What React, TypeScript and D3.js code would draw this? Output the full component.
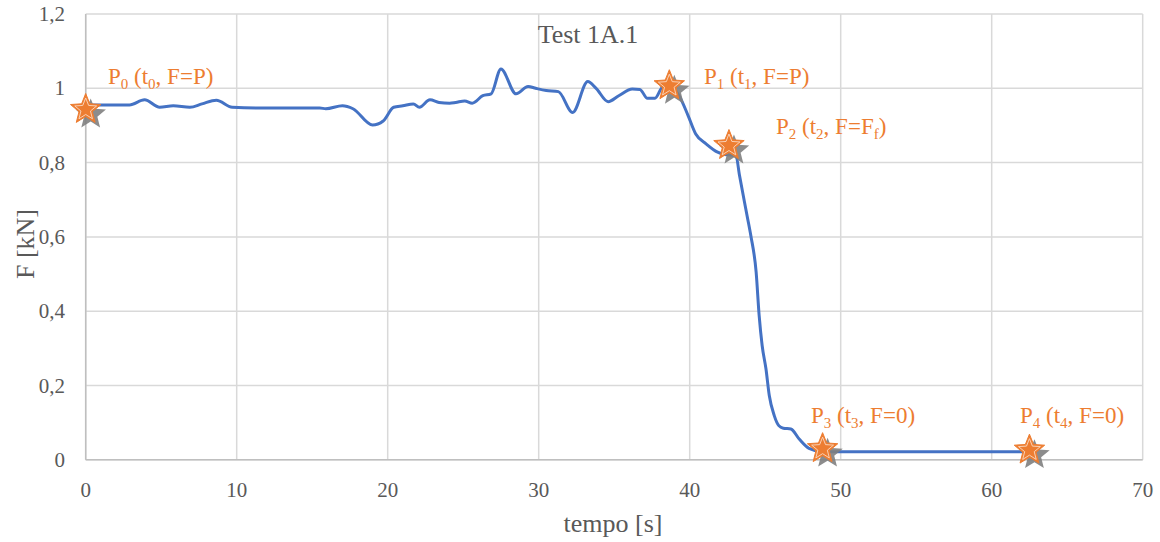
import React from "react";
import * as d3 from "d3";

const timeS = [0, 0.5, 2.9, 3.9, 4.9, 5.8, 6.9, 7.7, 8.65, 9.7, 12, 15.5, 15.9, 17, 17.7, 19.0, 19.7, 20.4, 21, 21.7, 22.1, 22.8, 23.4, 24.1, 24.5, 25.1, 25.6, 26.3, 26.85, 27.5, 28.5, 29.3, 29.8, 30.5, 31.3, 32.25, 33.25, 33.8, 34.6, 35.3, 36.2, 36.7, 37.2, 37.7, 38.2, 38.65, 39.3, 39.9, 40.4, 41.1, 41.85, 42.3, 43.06, 43.3, 43.8, 44.05, 44.4, 44.6, 44.8, 45.05, 45.27, 45.6, 45.9, 46.2, 46.7, 47.25, 47.9, 48.8, 55, 62.7];
const forceKN = [0.95, 0.955, 0.955, 0.969, 0.949, 0.953, 0.949, 0.958, 0.968, 0.949, 0.947, 0.947, 0.945, 0.953, 0.945, 0.901, 0.912, 0.949, 0.953, 0.958, 0.949, 0.969, 0.962, 0.96, 0.962, 0.966, 0.96, 0.98, 0.985, 1.052, 0.985, 1.005, 1.0, 0.994, 0.991, 0.935, 1.018, 1.0, 0.964, 0.98, 0.998, 0.997, 0.973, 0.973, 1.003, 1.007, 0.98, 0.926, 0.877, 0.85, 0.828, 0.822, 0.819, 0.765, 0.657, 0.603, 0.505, 0.388, 0.307, 0.245, 0.173, 0.119, 0.092, 0.085, 0.083, 0.056, 0.031, 0.022, 0.022, 0.022];

const pointNames = ["0", "1", "2", "3", "4"];
const pointT = [0, 38.65, 42.6, 48.8, 62.5];
const pointF = [0.943, 1.007, 0.846, 0.03, 0.026];
const pointLabelF = ["P", "P", "F", "0", "0"];

const xTicks = [0, 10, 20, 30, 40, 50, 60, 70];
const yTicks = [0, 0.2, 0.4, 0.6, 0.8, 1, 1.2];

const W = 1160, H = 542;
const x = d3.scaleLinear().domain([0, 70]).range([85.7, 1142.7]);
const y = d3.scaleLinear().domain([0, 1.2]).range([459.8, 14]);

const orange = "#ED7D31";
const grid = "#d9d9d9";
const textGray = "#595959";
const serif = "'Liberation Serif', 'Times New Roman', serif";

function starPath(cx: number, cy: number, R: number, r: number) {
  const pts: [number, number][] = [];
  for (let i = 0; i < 10; i++) {
    const a = -Math.PI / 2 + (i * Math.PI) / 5;
    const rad = i % 2 === 0 ? R : r;
    pts.push([cx + rad * Math.cos(a), cy + rad * Math.sin(a)]);
  }
  return d3.line()(pts)! + "Z";
}

const labelPos: [number, number][] = [
  [108, 84],
  [704, 84],
  [776, 134],
  [811, 423],
  [1020, 423],
];

export default function App() {
  const line = d3
    .line<number>()
    .x((_, i) => x(timeS[i]))
    .y((d) => y(d))
    .curve(d3.curveMonotoneX);
  const path = line(forceKN) || "";
  const fmt = (v: number) => String(v).replace(".", ",");
  return (
    <svg width={W} height={H} style={{ position: "absolute", left: 0, top: 0, background: "#fff" }}>
      {xTicks.map((t) => (
        <line key={"gx" + t} x1={x(t)} x2={x(t)} y1={y(1.2)} y2={y(0)} stroke={grid} strokeWidth={1.5} />
      ))}
      {yTicks.map((t) => (
        <line key={"gy" + t} x1={x(0)} x2={x(70)} y1={y(t)} y2={y(t)} stroke={grid} strokeWidth={1.5} />
      ))}
      <line x1={x(0)} x2={x(0)} y1={y(1.2)} y2={y(0)} stroke="#bfbfbf" strokeWidth={1.5} />
      <line x1={x(0)} x2={x(70)} y1={y(0)} y2={y(0)} stroke="#bfbfbf" strokeWidth={1.5} />
      {yTicks.map((t) => (
        <text key={"ty" + t} x={65} y={y(t) + 7} textAnchor="end" fontFamily={serif} fontSize={21} fill={textGray}>
          {fmt(t)}
        </text>
      ))}
      {xTicks.map((t) => (
        <text key={"tx" + t} x={x(t)} y={497} textAnchor="middle" fontFamily={serif} fontSize={21} fill={textGray}>
          {t}
        </text>
      ))}
      <text x={588} y={43} textAnchor="middle" fontFamily={serif} fontSize={26} fill={textGray}>
        Test 1A.1
      </text>
      <text x={613} y={532} textAnchor="middle" fontFamily={serif} fontSize={26} fill={textGray}>
        tempo [s]
      </text>
      <text transform="translate(34,244) rotate(-90)" textAnchor="middle" fontFamily={serif} fontSize={26} fill={textGray}>
        F [kN]
      </text>
      <path d={path} fill="none" stroke="#4472C4" strokeWidth={3} strokeLinejoin="round" />
      {pointT.map((t, i) => {
        const cx = x(t), cy = y(pointF[i]);
        return (
          <g key={"s" + i}>
            <path d={starPath(cx + 5, cy + 5, 16, 7)} fill="#7f7f7f" opacity={0.9} />
            <path d={starPath(cx, cy, 16, 7)} fill={orange} stroke={orange} strokeWidth={1} />
            <path d={starPath(cx, cy, 11.5, 5)} fill="none" stroke="#fbd9c2" strokeWidth={0.9} />
          </g>
        );
      })}
      {pointNames.map((n, i) => (
        <text key={"l" + i} x={labelPos[i][0]} y={labelPos[i][1]} fontFamily={serif} fontSize={23} fill={orange}>
          P<tspan fontSize={15} dy={5}>{n}</tspan>
          <tspan dy={-5}> (t</tspan>
          <tspan fontSize={15} dy={5}>{n}</tspan>
          <tspan dy={-5}>, F={pointLabelF[i]}</tspan>
          {i === 2 ? (
            <>
              <tspan fontSize={15} dy={5}>f</tspan>
              <tspan dy={-5}>)</tspan>
            </>
          ) : (
            <tspan>)</tspan>
          )}
        </text>
      ))}
    </svg>
  );
}
